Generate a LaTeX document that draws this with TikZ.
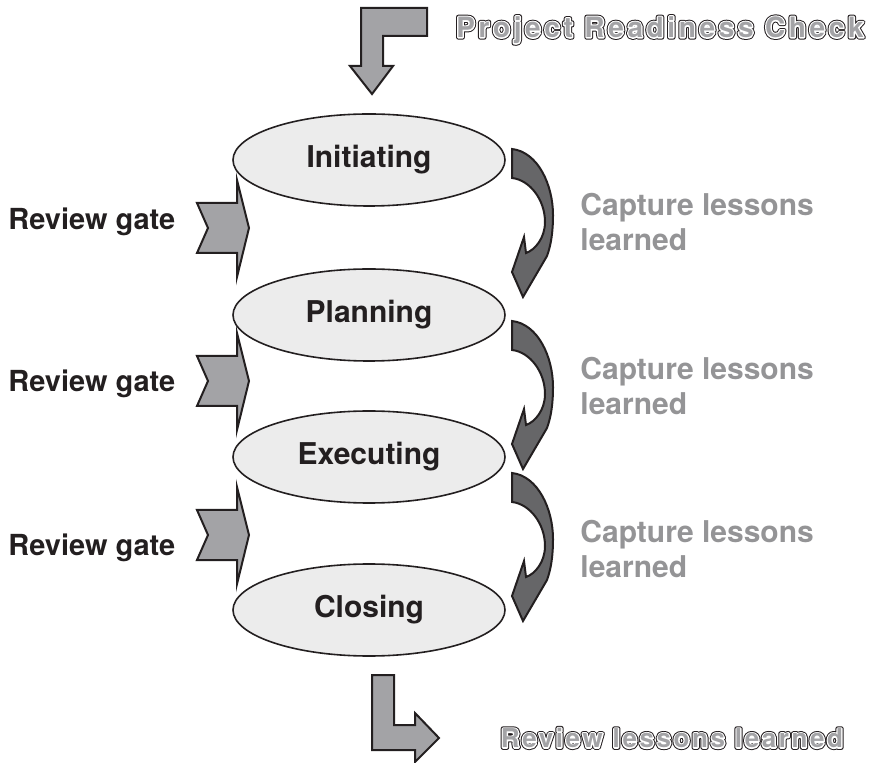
\documentclass[tikz,border=0pt]{standalone}
\usepackage{fontspec}
\setmainfont{TeX Gyre Heros}
\usetikzlibrary{shapes.geometric}
\definecolor{phasefill}{RGB}{236,236,236}
\definecolor{blockgray}{RGB}{163,163,166}
\definecolor{darkarrow}{RGB}{102,102,104}
\definecolor{lessongray}{RGB}{148,148,150}
\definecolor{inkblack}{RGB}{35,31,32}
\tikzset{
% Node styles for the phases and the side texts
phase node/.style={ellipse,draw=inkblack,line width=0.8pt,fill=phasefill,
  minimum width=136pt,minimum height=46pt,inner sep=0pt,
  font=\fontsize{15}{18}\selectfont\bfseries,text=inkblack},
gate text/.style={anchor=west,inner sep=0pt,
  font=\fontsize{14.5}{17}\selectfont\bfseries,text=inkblack},
lesson text/.style={anchor=west,inner sep=0pt,align=left,
  font=\fontsize{15}{17.5}\selectfont\bfseries,text=lessongray},
ring text/.style 2 args={inner sep=0pt,font=\fontsize{#1}{18}\selectfont\bfseries\addfontfeatures{LetterSpace=#2}},
% Block arrows
block arrow/.style={draw=inkblack,line width=1pt,fill=blockgray,line join=miter},
turn arrow/.style={draw=inkblack,line width=1pt,fill=darkarrow,line join=miter}
}
% Outlined grey letters: dark stroke, white stroke, grey fill
\newcommand{\ringtext}[1]{%
  \rlap{\color{white}\special{pdf:literal direct 0.14 0.12 0.13 RG 2.3 w 1 j 2 Tr}#1\special{pdf:literal direct 0 Tr 0 j}}%
  \rlap{\color{white}\special{pdf:literal direct 1 1 1 RG 1.3 w 1 j 2 Tr}#1\special{pdf:literal direct 0 Tr 0 j}}%
  {\color{blockgray}#1}}

\begin{document}
\begin{tikzpicture}[x=0.5pt,y=-0.5pt]
      \useasboundingbox (0,0) rectangle (882,763);
      % Phases
      \node[phase node] (init) at (369,160) {Initiating};
      \node[phase node] (plan) at (369,315) {Planning};
      \node[phase node] (exec) at (369,457) {Executing};
      \node[phase node] (close) at (369,610) {Closing};
      % Entry and exit arrows
      \draw[block arrow] (361,8) -- (427,8) -- (427,36) -- (383,36) -- (383,66)
        -- (393,66) -- (372,94) -- (350,66) -- (361,66) -- cycle;
      \draw[block arrow] (372,675) -- (394,675) -- (394,725) -- (415,725)
        -- (415,713) -- (439,738) -- (415,762) -- (415,750) -- (372,750) -- cycle;
      \node[ring text={14}{13}] (ready) at (660,30) {\ringtext{Project Readiness Check}};
      \node[ring text={13}{10}] (review) at (672,738) {\ringtext{Review lessons learned}};
      % Review gates on the left
      \foreach \y/\t in {228/222,381/384,535/548}{
        \begin{scope}[shift={(0,\y)}]
          \draw[block arrow] (197,-25) -- (237,-25) -- (237,-48) -- (249,0)
            -- (237,49) -- (237,25) -- (197,25) -- (208,0) -- cycle;
        \end{scope}
        \node[gate text] (gate\y) at (8,\t) {Review gate};
      }
      % Lessons arrows on the right
      \foreach \dy/\t in {0/222,172/386,324/549}{
        \begin{scope}[shift={(0,\dy)}]
          \draw[turn arrow] (512,149) .. controls (538,152) and (553,185) .. (553,215)
            .. controls (553,232) and (551,245) .. (547,256) -- (523,297)
            -- (512,272) -- (524,237) -- (526,253)
            .. controls (535,250) and (545,238) .. (545,222)
            .. controls (545,200) and (530,180) .. (512,178) -- cycle;
        \end{scope}
        \node[lesson text] (lesson\dy) at (580,\t) {Capture lessons\\learned};
      }
\end{tikzpicture}
\end{document}
